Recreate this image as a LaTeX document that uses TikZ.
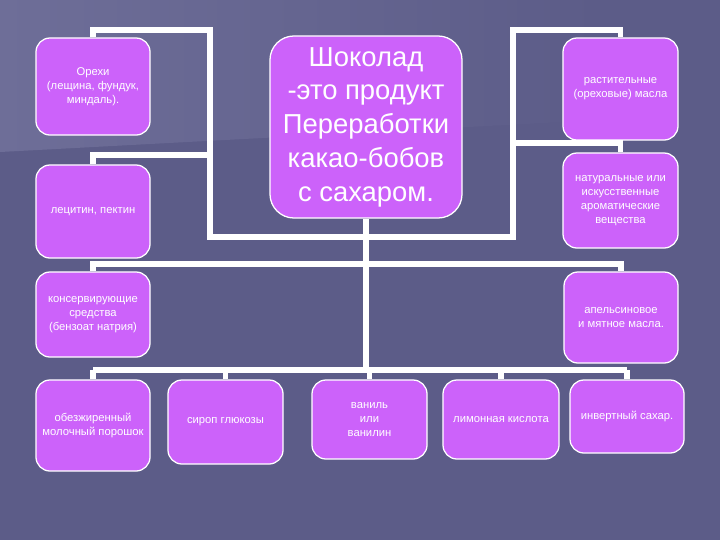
\documentclass[tikz,border=0pt]{standalone}
\usepackage{fontspec}
\setmainfont{Liberation Sans}
\usepackage{tikz}
\usetikzlibrary{calc}
\definecolor{BgDark} {RGB}{92,92,136}
\definecolor{BgLite} {RGB}{110,110,152}
\definecolor{BoxFill}{RGB}{204,98,250}
\tikzset{
  nd_box/.style={rectangle,rounded corners=0.35cm,draw=white,line width=0.9pt,fill=BoxFill,minimum width=2.85cm,inner sep=1pt,align=center,text=white,font=\fontsize{8}{10}\selectfont},
  nd_main/.style={rectangle,rounded corners=0.6cm,draw=white,line width=0.9pt,fill=BoxFill,minimum width=4.8cm,minimum height=4.55cm,inner sep=2pt,align=center,text=white,font=\fontsize{19.5}{24}\selectfont},
  lnk/.style={draw=white,line width=3.6pt,line join=miter},
}

\begin{document}
\begin{tikzpicture}[x=0.025cm,y=-0.025cm]
% background
\fill[BgDark](0,0) rectangle (720,540);
\shade[left color=BgLite,right color=BgDark](0,0)--(600,0)--(600,120)--(0,152)--cycle;
\useasboundingbox (0,0) rectangle (720,540);
% centre
\node[nd_main] at (366,127)(main){Шоколад\\-это продукт\\Переработки\\какао-бобов\\с сахаром.};
% left column
\node[nd_box,minimum height=2.425cm] at (93,86.5)(nuts){Орехи\\(лещина, фундук,\\миндаль).};
\node[nd_box,minimum height=2.325cm] at (93,211.5)(lecit){лецитин, пектин};
\node[nd_box,minimum height=2.125cm] at (93,314.5)(cons){консервирующие\\средства\\(бензоат натрия)};
% right column
\node[nd_box,minimum height=2.55cm,minimum width=2.875cm] at (620.5,89)(oils){растительные\\(ореховые) масла};
\node[nd_box,minimum height=2.375cm,minimum width=2.875cm] at (620.5,200.5)(arom){натуральные или\\искусственные\\ароматические\\вещества};
\node[nd_box,minimum height=2.275cm] at (621,317.5)(orange){апельсиновое\\и мятное масла.};
% bottom row
\node[nd_box,minimum height=2.275cm] at (93,425.5)(milk){обезжиренный\\молочный порошок};
\node[nd_box,minimum height=2.1cm,minimum width=2.875cm] at (225.5,422)(syrup){сироп глюкозы};
\node[nd_box,minimum height=1.975cm,minimum width=2.875cm] at (369.5,419.5)(vanil){ваниль\\или\\ванилин};
\node[nd_box,minimum height=1.975cm,minimum width=2.9cm] at (501,419.5)(lemon){лимонная кислота};
\node[nd_box,minimum height=1.825cm] at (627,416.5)(invert){инвертный сахар.};
% junctions
\coordinate (lTop) at (210,30);\coordinate (lMid) at (210,155);\coordinate (lLow) at (210,237);
\coordinate (rTop) at (513,30);\coordinate (rMid) at (513,143);\coordinate (rLow) at (513,237);
\coordinate (cLow) at (366,237);\coordinate (mBus) at (366,264);\coordinate (bBus) at (366,370);
% links
\draw[lnk](nuts.north)|-(lTop)--(lLow)--(cLow);
\draw[lnk](lecit.north)|-(lMid);
\draw[lnk](oils.north)|-(rTop)--(rLow)--(cLow);
\draw[lnk](arom.north)|-(rMid);
\draw[lnk](main.south)--(bBus);
\draw[lnk](cons.north)|-(mBus)-|(orange.north);
\draw[lnk](milk.north|-bBus)--(invert.north|-bBus);
\foreach \n in {milk,syrup,vanil,lemon,invert}{\draw[lnk](\n.north)--(\n.north|-bBus);}
\end{tikzpicture}
\end{document}
